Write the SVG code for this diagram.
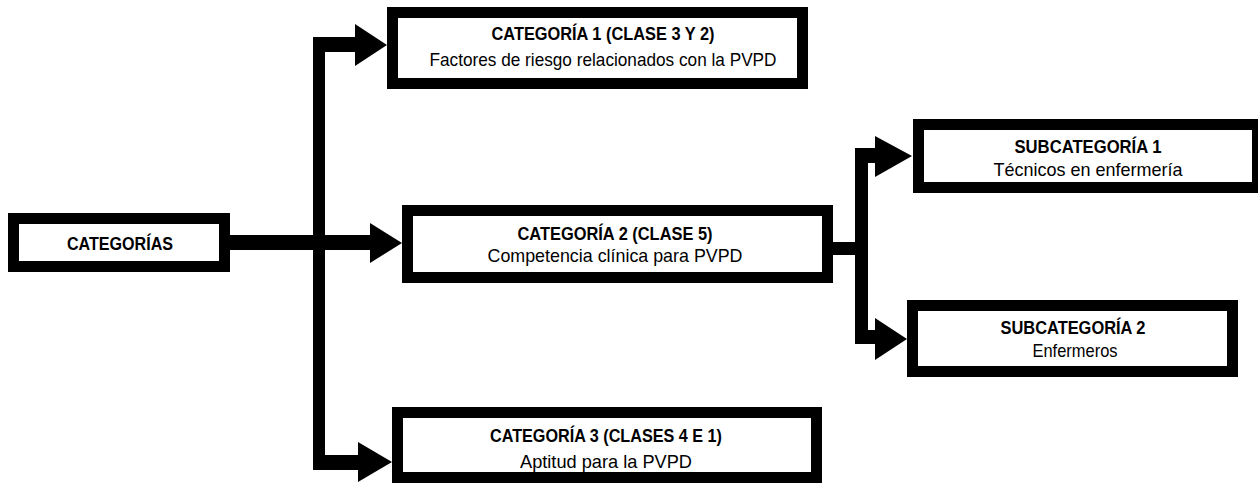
<svg xmlns="http://www.w3.org/2000/svg" width="1258" height="483" viewBox="0 0 1258 483">
<style>
.box{fill:#fff;stroke:#000;stroke-width:11}
.t{font-family:"Liberation Sans",Arial,sans-serif;font-size:19px;fill:#000;text-anchor:middle}
.b{font-weight:bold}
.c{fill:#000;stroke:none}
</style>
<rect width="1258" height="483" fill="#fff"/>
<g id="connectors">
<rect class="c" x="230" y="235" width="142" height="15"/>
<rect class="c" x="313" y="37" width="12" height="433"/>
<rect class="c" x="313" y="37" width="44" height="15"/>
<rect class="c" x="313" y="455" width="49" height="15"/>
<polygon class="c" points="370,223 402,243 370,263"/>
<polygon class="c" points="355,24 387,45 355,66"/>
<polygon class="c" points="358,442 392,462 358,482"/>
<rect class="c" x="833" y="242" width="35" height="13"/>
<rect class="c" x="855" y="148" width="13" height="196"/>
<rect class="c" x="855" y="148" width="22" height="15"/>
<rect class="c" x="855" y="330" width="22" height="14"/>
<polygon class="c" points="875,136 912,156 875,177"/>
<polygon class="c" points="875,318 907,339 875,360"/>
</g>
<g id="categorias">
<rect class="box" x="13.5" y="218.5" width="211" height="48"/>
<text class="t b" x="120" y="250" textLength="106" lengthAdjust="spacingAndGlyphs">CATEGORÍAS</text>
</g>
<g id="cat1">
<rect class="box" x="392.5" y="12.5" width="410" height="71"/>
<text class="t b" x="603" y="40" textLength="223" lengthAdjust="spacingAndGlyphs">CATEGORÍA 1 (CLASE 3 Y 2)</text>
<text class="t" x="603" y="66" textLength="347" lengthAdjust="spacingAndGlyphs">Factores de riesgo relacionados con la PVPD</text>
</g>
<g id="cat2">
<rect class="box" x="407.5" y="210.5" width="420" height="67"/>
<text class="t b" x="615" y="240" textLength="195" lengthAdjust="spacingAndGlyphs">CATEGORÍA 2 (CLASE 5)</text>
<text class="t" x="615" y="262" textLength="255" lengthAdjust="spacingAndGlyphs">Competencia clínica para PVPD</text>
</g>
<g id="cat3">
<rect class="box" x="397.5" y="412.5" width="419" height="65"/>
<text class="t b" x="606" y="442" textLength="232" lengthAdjust="spacingAndGlyphs">CATEGORÍA 3 (CLASES 4 E 1)</text>
<text class="t" x="606" y="468" textLength="172" lengthAdjust="spacingAndGlyphs">Aptitud para la PVPD</text>
</g>
<g id="sub1">
<rect class="box" x="918.5" y="124.5" width="339" height="63"/>
<text class="t b" x="1088" y="153" textLength="147" lengthAdjust="spacingAndGlyphs">SUBCATEGORÍA 1</text>
<text class="t" x="1088" y="176" textLength="189" lengthAdjust="spacingAndGlyphs">Técnicos en enfermería</text>
</g>
<g id="sub2">
<rect class="box" x="912.5" y="305.5" width="320" height="66"/>
<text class="t b" x="1073" y="334" textLength="145" lengthAdjust="spacingAndGlyphs">SUBCATEGORÍA 2</text>
<text class="t" x="1075" y="357" textLength="85" lengthAdjust="spacingAndGlyphs">Enfermeros</text>
</g>
</svg>
